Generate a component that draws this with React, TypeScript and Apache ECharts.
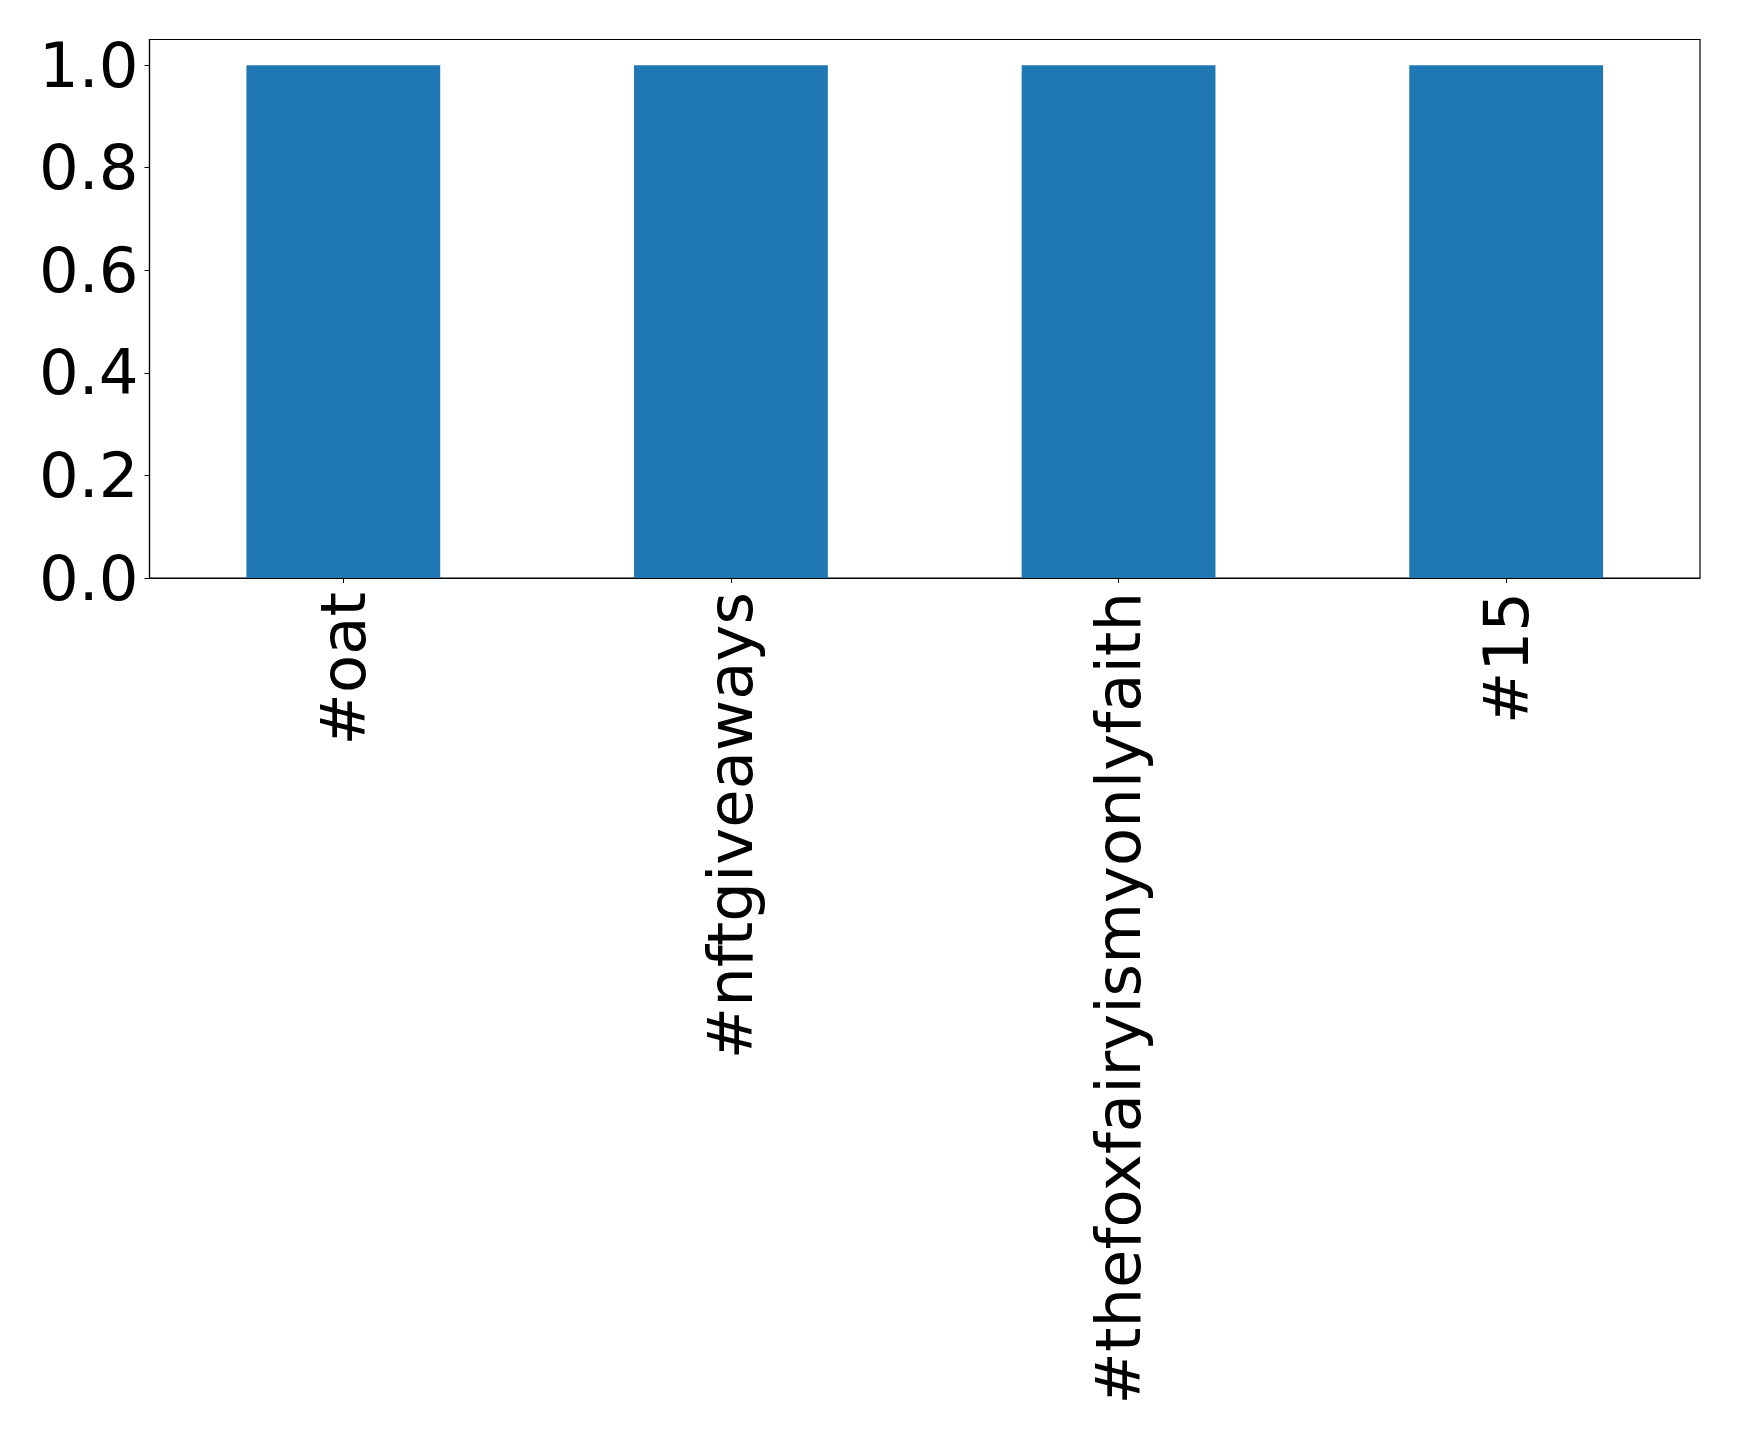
import React, { useEffect, useRef } from "react";
import * as echarts from "echarts";

const categories = ["#oat", "#nftgiveaways", "#thefoxfairyismyonlyfaith", "#15"];
const values = [1, 1, 1, 1];
const yTicks = [0, 0.2, 0.4, 0.6, 0.8, 1.0];

export default function App() {
  const ref = useRef<HTMLDivElement>(null);
  useEffect(() => {
    if (!ref.current) return;
    const chart = echarts.init(ref.current, null, { renderer: "svg" });
    const font = "DejaVu Sans";
    chart.setOption({
      animation: false,
      backgroundColor: "#ffffff",
      grid: {
        left: 149.5,
        top: 39.5,
        right: 39,
        bottom: 862,
        containLabel: false,
        show: true,
        borderColor: "#000000",
        borderWidth: 1.2,
        backgroundColor: "transparent",
      },
      xAxis: {
        type: "category",
        data: categories,
        axisLine: { show: true, lineStyle: { color: "#000", width: 1.2 } },
        axisTick: { show: true, alignWithLabel: true, length: 5, lineStyle: { color: "#000" } },
        axisLabel: {
          rotate: 90,
          interval: 0,
          margin: 14,
          color: "#000",
          fontFamily: font,
          fontSize: 62.5,
        },
        splitLine: { show: false },
      },
      yAxis: {
        type: "value",
        min: 0,
        max: 1.05,
        interval: 0.2,
        axisLine: { show: true, lineStyle: { color: "#000", width: 1.2 } },
        axisTick: { show: true, length: 5, lineStyle: { color: "#000" }, customValues: yTicks },
        axisLabel: {
          margin: 11,
          color: "#000",
          fontFamily: font,
          fontSize: 62.5,
          customValues: yTicks,
          formatter: (v: number) => v.toFixed(1),
        },
        splitLine: { show: false },
      },
      series: [
        {
          type: "bar",
          data: values,
          barWidth: "50%",
          itemStyle: { color: "#1f77b4" },
        },
      ],
    });
    return () => chart.dispose();
  }, []);
  return (
    <div
      ref={ref}
      style={{ position: "absolute", left: 0, top: 0, width: 1739, height: 1440 }}
    />
  );
}
